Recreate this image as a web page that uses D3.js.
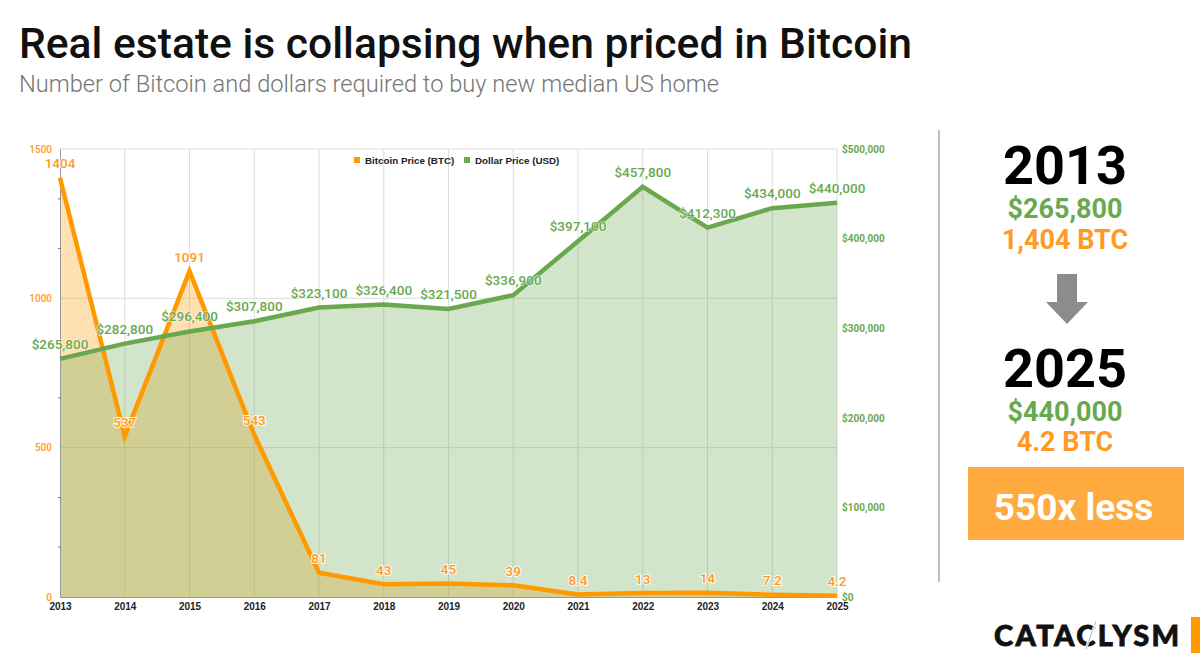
<!DOCTYPE html>
<html>
<head>
<meta charset="utf-8">
<script src="https://cdn.jsdelivr.net/npm/d3@7"></script>
<style>
  html, body { margin: 0; padding: 0; background: #fff; }
  svg { display: block; }
  text { font-family: Roboto, sans-serif; }
</style>
</head>
<body>
<svg width="1200" height="662"></svg>
<script>
var years = [2013, 2014, 2015, 2016, 2017, 2018, 2019, 2020, 2021, 2022, 2023, 2024, 2025];
var btcPrice = [1404, 537, 1091, 543, 81, 43, 45, 39, 8.4, 13, 14, 7.2, 4.2];
var usdPrice = [265800, 282800, 296400, 307800, 323100, 326400, 321500, 336900, 397100, 457800, 412300, 434000, 440000];
var btcTicks = [0, 500, 1000, 1500];
var btcMinorTicks = [167, 333, 667, 833, 1167, 1333];
var usdTicks = [0, 100000, 200000, 300000, 400000, 500000];

var orange = "#ff9900";
var orangeText = "#ff9a26";
var green = "#6aa84f";

var svg = d3.select("svg");

svg.append("text").text("Real estate is collapsing when priced in Bitcoin")
  .attr("x", 19).attr("y", 58)
  .style("font-size", "42.6px").style("font-weight", 500).attr("fill", "#111");

svg.append("text").text("Number of Bitcoin and dollars required to buy new median US home")
  .attr("x", 19).attr("y", 92)
  .style("font-size", "23.65px").style("font-weight", 300).attr("fill", "#757575");

// chart
var x = d3.scalePoint().domain(years).range([60, 837]);
var yBtc = d3.scaleLinear().domain([0, 1500]).range([597, 149]);
var yUsd = d3.scaleLinear().domain([0, 500000]).range([597, 149]);

// gridlines
svg.append("g").selectAll("line")
  .data(years.slice(1))
  .enter().append("line")
  .attr("x1", function(d) { return x(d); })
  .attr("x2", function(d) { return x(d); })
  .attr("y1", yBtc(1500)).attr("y2", yBtc(0))
  .attr("stroke", "#dcdcdc").attr("stroke-width", 1);

svg.append("g").selectAll("line")
  .data(btcTicks.slice(1))
  .enter().append("line")
  .attr("x1", x(2013)).attr("x2", x(2025))
  .attr("y1", function(d) { return yBtc(d); })
  .attr("y2", function(d) { return yBtc(d); })
  .attr("stroke", "#dcdcdc").attr("stroke-width", 1);

// areas
var btcArea = d3.area()
  .x(function(d, i) { return x(years[i]); })
  .y0(yBtc(0))
  .y1(function(d) { return yBtc(d); });
var usdArea = d3.area()
  .x(function(d, i) { return x(years[i]); })
  .y0(yUsd(0))
  .y1(function(d) { return yUsd(d); });

svg.append("path").attr("d", btcArea(btcPrice)).attr("fill", orange).attr("fill-opacity", 0.3);
svg.append("path").attr("d", usdArea(usdPrice)).attr("fill", green).attr("fill-opacity", 0.3);

// axes
var leftAxis = d3.axisLeft(yBtc).tickValues(btcTicks).tickSize(0).tickPadding(8).tickFormat(d3.format("d"));
var rightAxis = d3.axisRight(yUsd).tickValues(usdTicks).tickSize(0).tickPadding(5)
  .tickFormat(function(d) { return "$" + d3.format(",")(d); });
var bottomAxis = d3.axisBottom(x).tickSize(0).tickPadding(6);

var gLeft = svg.append("g").attr("transform", "translate(60,0)").call(leftAxis);
gLeft.select(".domain").attr("stroke", "#999").attr("stroke-width", 1);
gLeft.selectAll("text").attr("fill", orangeText)
  .style("font-family", "Roboto").style("font-size", "10px").style("font-weight", 500);

svg.append("g").selectAll("line")
  .data(btcMinorTicks)
  .enter().append("line")
  .attr("x1", 58).attr("x2", 61)
  .attr("y1", function(d) { return yBtc(d); })
  .attr("y2", function(d) { return yBtc(d); })
  .attr("stroke", "#777");

var gRight = svg.append("g").attr("transform", "translate(837,0)").call(rightAxis);
gRight.select(".domain").remove();
gRight.selectAll("text").attr("fill", green)
  .style("font-family", "Roboto").style("font-size", "10px").style("font-weight", 700);

var gBottom = svg.append("g").attr("transform", "translate(0,597)").call(bottomAxis);
gBottom.select(".domain").attr("stroke", "#999").attr("stroke-width", 1);
gBottom.selectAll("text").attr("fill", "#222")
  .style("font-family", "'Liberation Sans'").style("font-size", "10px").style("font-weight", 700);

// lines
var btcLine = d3.line()
  .x(function(d, i) { return x(years[i]); })
  .y(function(d) { return yBtc(d); });
var usdLine = d3.line()
  .x(function(d, i) { return x(years[i]); })
  .y(function(d) { return yUsd(d); });

svg.append("path").attr("d", btcLine(btcPrice)).attr("fill", "none")
  .attr("stroke", orange).attr("stroke-width", 4.5).attr("stroke-linejoin", "miter");
svg.append("path").attr("d", usdLine(usdPrice)).attr("fill", "none")
  .attr("stroke", green).attr("stroke-width", 4.5);

// point labels
svg.append("g").selectAll("text")
  .data(usdPrice)
  .enter().append("text")
  .text(function(d) { return "$" + d3.format(",")(d); })
  .attr("x", function(d, i) { return x(years[i]); })
  .attr("y", function(d) { return yUsd(d) - 10; })
  .attr("text-anchor", "middle")
  .attr("fill", green)
  .attr("stroke", "#fff").attr("stroke-opacity", 0.7).attr("stroke-width", 1.5)
  .style("paint-order", "stroke")
  .style("font-size", "13.5px").style("font-weight", 500);

svg.append("g").selectAll("text")
  .data(btcPrice)
  .enter().append("text")
  .text(function(d) { return d; })
  .attr("x", function(d, i) { return x(years[i]); })
  .attr("y", function(d) { return yBtc(d) - 9.5; })
  .attr("text-anchor", "middle")
  .attr("fill", orangeText)
  .attr("stroke", "#fff").attr("stroke-opacity", 0.9).attr("stroke-width", 2)
  .style("paint-order", "stroke")
  .style("font-size", "13.5px").style("font-weight", 500);

// legend
var legend = svg.append("g");
legend.append("rect").attr("x", 354).attr("y", 157).attr("width", 6).attr("height", 6).attr("fill", orange);
legend.append("text").text("Bitcoin Price (BTC)").attr("x", 365).attr("y", 164)
  .attr("fill", "#222").style("font-family", "'Liberation Sans'").style("font-size", "9.8px").style("font-weight", 700);
legend.append("rect").attr("x", 464).attr("y", 157).attr("width", 6).attr("height", 6).attr("fill", green);
legend.append("text").text("Dollar Price (USD)").attr("x", 475).attr("y", 164)
  .attr("fill", "#222").style("font-family", "'Liberation Sans'").style("font-size", "9.8px").style("font-weight", 700);

// side panel
svg.append("line").attr("x1", 939).attr("x2", 939).attr("y1", 130).attr("y2", 582)
  .attr("stroke", "#aaa").attr("stroke-width", 1.5);

function sideText(txt, y, size, color) {
  svg.append("text").text(txt)
    .attr("x", 1065).attr("y", y).attr("text-anchor", "middle")
    .attr("fill", color)
    .style("font-size", size + "px").style("font-weight", 700);
}
sideText("2013", 184, 54, "#000");
sideText("$265,800", 218, 27, green);
sideText("1,404 BTC", 249, 27, orangeText);
sideText("2025", 387, 54, "#000");
sideText("$440,000", 421, 27, green);
sideText("4.2 BTC", 451, 27, orangeText);

svg.append("path")
  .attr("d", "M1057,274H1077V302H1088L1067,324L1046,302H1057Z")
  .attr("fill", "#8c8c8c");

svg.append("rect").attr("x", 968).attr("y", 467).attr("width", 216).attr("height", 73).attr("fill", "#ffab40");
svg.append("text").text("550x less")
  .attr("x", 1073.5).attr("y", 520).attr("text-anchor", "middle")
  .attr("fill", "#fff").style("font-size", "37px").style("font-weight", 700);

// logo
svg.append("text").text("CATACLYSM")
  .attr("x", 994).attr("y", 646)
  .attr("fill", "#111").attr("stroke", "#111").attr("stroke-width", 0.8)
  .style("font-family", "Lato").style("font-size", "29px").style("font-weight", 900)
  .style("letter-spacing", "2.4px");
svg.append("line").attr("x1", 1096).attr("y1", 622).attr("x2", 1086).attr("y2", 648)
  .attr("stroke", "#fff").attr("stroke-width", 2.5);
svg.append("line").attr("x1", 1096).attr("y1", 621).attr("x2", 1086).attr("y2", 649)
  .attr("stroke", "#999").attr("stroke-width", 0.7);
svg.append("rect").attr("x", 1191).attr("y", 617).attr("width", 9).attr("height", 36).attr("fill", "#ff9900");
</script>
</body>
</html>
